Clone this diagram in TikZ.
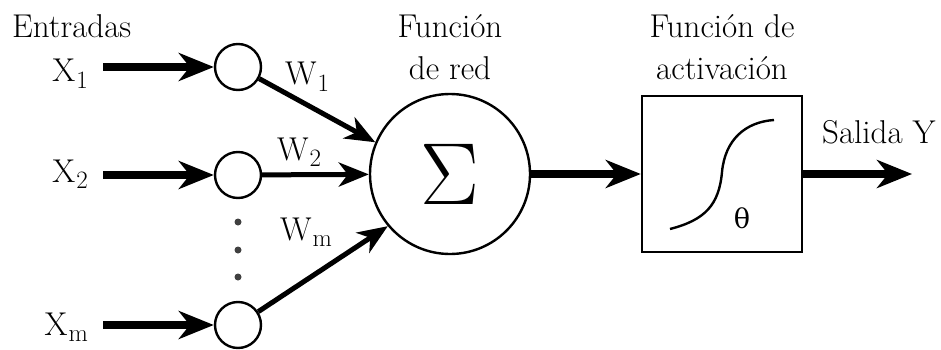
\RequirePackage{fix-cm}
\documentclass[tikz,border=0pt]{standalone}
\usepackage{fontspec}
\newfontfamily\greekfont{DejaVu Serif}
\usetikzlibrary{arrows.meta,positioning,calc}
\newcommand{\idx}[1]{\kern1pt\raisebox{-6pt}{\fontsize{25}{25}\selectfont#1}}

\begin{document}
\begin{tikzpicture}[x=1pt,y=-1pt,
  font=\fontsize{33}{42}\selectfont,
  txt/.style={inner sep=0pt},
  inlabel/.style={inner xsep=15pt,inner ysep=0pt,anchor=base east},
  unit/.style={draw,circle,line width=2.4pt,minimum size=46pt,inner sep=0pt},
  thickarrow/.style={line width=7.5pt,-{Stealth[length=35pt,width=28pt,inset=11pt]}},
  weightarrow/.style={line width=5pt,-{Stealth[length=30pt,width=24pt,inset=9pt]}}]
\useasboundingbox (0,0) rectangle (941,350);

% entradas
\node[txt,anchor=base west] (inputs) at (12,38) {Entradas};
\node[inlabel] (x1) at (103,82) {X\idx{1}};
\node[inlabel] (x2) at (103,182) {X\idx{2}};
\node[inlabel] (xm) at (103,335) {X\idx{m}};
\node[unit] (c1) at (238,67) {};
\node[unit] (c2) at (238,175) {};
\node[unit] (cm) at (238,325) {};
\foreach \y in {222,250,277}
  \fill[black!75] (238,\y) circle (3.5pt);

% pesos
\node[txt,anchor=base west] (w1) at (285,85) {W\idx{1}};
\node[txt,anchor=base west] (w2) at (277,160) {W\idx{2}};
\node[txt,anchor=base west] (wm) at (280,240) {W\idx{m}};

% funcion de red
\node[draw,circle,line width=2.4pt,minimum size=160pt,inner sep=0pt] (sum) at (450,174)
  {\fontsize{88}{88}\selectfont$\Sigma$};
\node[txt,align=center,anchor=south] (netfn) at (450,80) {Función\\de red};

% funcion de activacion
\node[draw,line width=2.4pt,minimum width=160pt,minimum height=156pt] (act) at (722,174) {};
\node[txt,align=center,anchor=south] (actfn) at (722,80) {Función de\\activación};
\draw[line width=2.4pt] (670,229) .. controls (705,220) and (719,205) .. (722,172)
  .. controls (725,140) and (745,122) .. (774,120);
\node (theta) at (742,218) {\greekfont\fontsize{27}{27}\selectfont θ};

% salida
\coordinate (out) at (912,174);
\node[txt,anchor=base west] (output) at (822,143) {Salida Y};

\path[thickarrow]
(x1.east |- c1) edge (c1)
(x2.east |- c2) edge (c2)
(xm.east |- cm) edge (cm)
(sum) edge (act)
(act) edge (out)
;
\path[weightarrow]
(c1) edge (sum.157)
(c2) edge (sum)
(cm) edge (sum.220)
;
\end{tikzpicture}
\end{document}
